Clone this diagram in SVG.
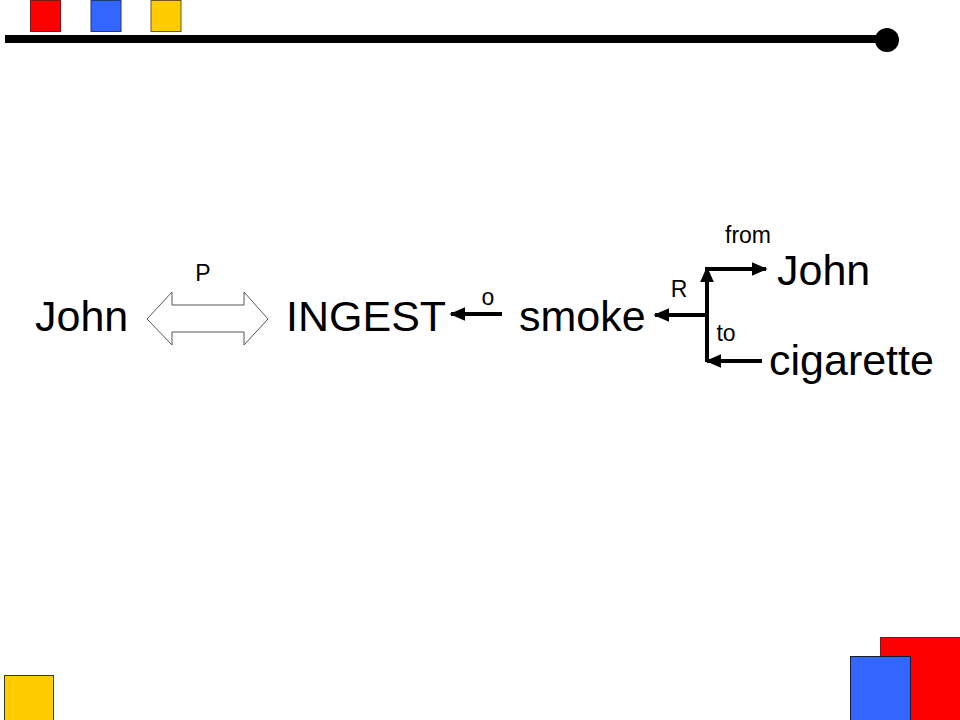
<svg xmlns="http://www.w3.org/2000/svg" width="960" height="720" viewBox="0 0 960 720">
<defs>
<style>
.big{font-family:"Liberation Sans",Arial,sans-serif;font-size:43px;fill:#000}
.sm{font-family:"Liberation Sans",Arial,sans-serif;font-size:23px;fill:#000}
.ln{stroke:#000;stroke-width:4;fill:none}
</style>
<marker id="ah" viewBox="0 0 10 10" refX="9" refY="5" markerWidth="4" markerHeight="3.5" orient="auto" markerUnits="strokeWidth" preserveAspectRatio="none">
<path d="M0,0 L10,5 L0,10 z" fill="#000"/>
</marker>
</defs>
<rect width="960" height="720" fill="#fff"/>
<g id="decor">
<rect x="30.5" y="0.5" width="30" height="31" fill="#ff0000" stroke="#7a1a1a" stroke-width="1"/>
<rect x="91" y="0.5" width="30" height="31" fill="#3366ff" stroke="#1f3a7a" stroke-width="1"/>
<rect x="151" y="0.5" width="30" height="31" fill="#ffcc00" stroke="#6b5a1a" stroke-width="1"/>
<line x1="5" y1="39" x2="887" y2="39" stroke="#000" stroke-width="8"/>
<circle cx="887" cy="40" r="12" fill="#000"/>
<rect x="4.5" y="675.5" width="49" height="46" fill="#ffcc00" stroke="#3a3a1a" stroke-width="1"/>
<rect x="880.5" y="637.5" width="81" height="84" fill="#ff0000" stroke="#7a1a1a" stroke-width="1"/>
<rect x="850.5" y="656.5" width="60" height="65" fill="#3366ff" stroke="#1a1a3a" stroke-width="1"/>
</g>
<g id="connectors">
<path d="M147,319 L172,292 L172,305 L244,305 L244,292 L268,319 L244,345 L244,332 L172,332 L172,345 Z" fill="#fff" stroke="#555" stroke-width="1"/>
<line class="ln" x1="502" y1="314" x2="451" y2="314" marker-end="url(#ah)"/>
<line class="ln" x1="707" y1="315" x2="655" y2="315" marker-end="url(#ah)"/>
<line class="ln" x1="707" y1="362" x2="707" y2="268" marker-end="url(#ah)"/>
<line class="ln" x1="705" y1="269" x2="766" y2="269" marker-end="url(#ah)"/>
<line class="ln" x1="762" y1="361" x2="707" y2="361" marker-end="url(#ah)"/>
<text class="sm" x="203" y="281" text-anchor="middle">P</text>
<text class="sm" x="488" y="305" text-anchor="middle">o</text>
<text class="sm" x="679" y="297" text-anchor="middle">R</text>
<text class="sm" x="748" y="243" text-anchor="middle">from</text>
<text class="sm" x="726" y="341" text-anchor="middle">to</text>
</g>
<g id="john1"><text class="big" x="35" y="331">John</text></g>
<g id="ingest"><text class="big" x="286" y="331">INGEST</text></g>
<g id="smoke"><text class="big" x="519" y="331">smoke</text></g>
<g id="john2"><text class="big" x="777" y="285">John</text></g>
<g id="cigarette"><text class="big" x="769" y="375">cigarette</text></g>
</svg>
